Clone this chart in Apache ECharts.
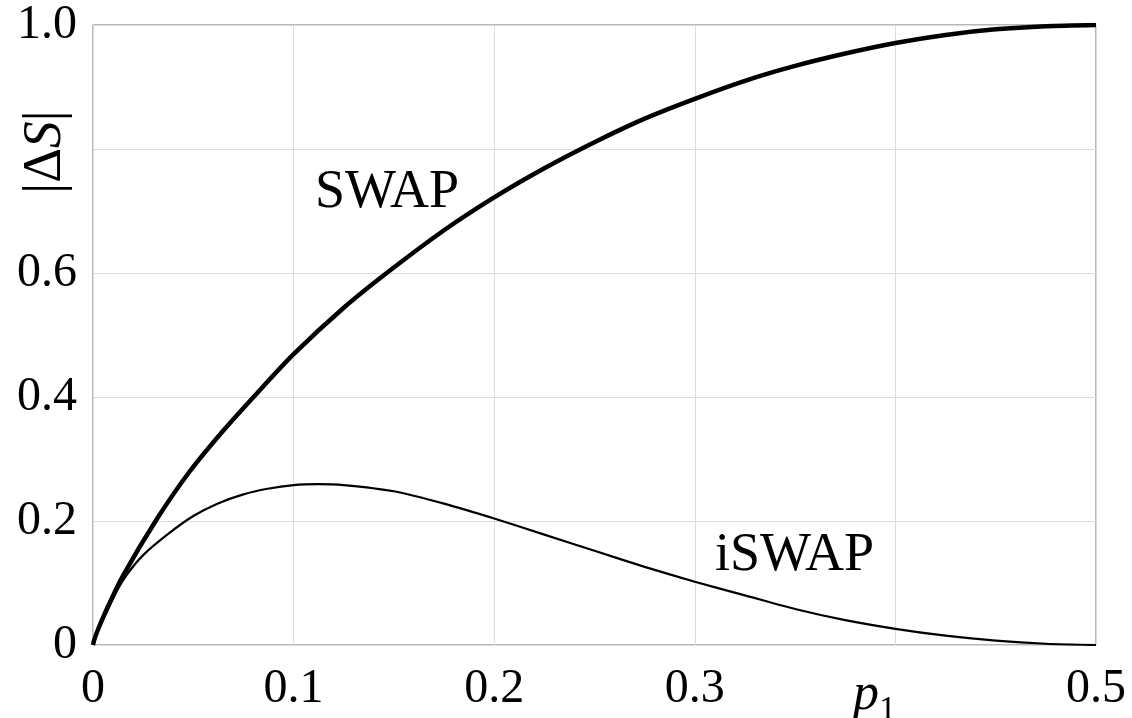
<!DOCTYPE html>
<html>
<head>
<meta charset="utf-8">
<script src="https://cdn.jsdelivr.net/npm/echarts@6/dist/echarts.min.js"></script>
<style>html,body{margin:0;padding:0;background:#fff}#c{width:1132px;height:718px}</style>
</head>
<body>
<div id="c"></div>
<script>
// p1 values and |ΔS| values
const swapP = [0, 0.0005, 0.002, 0.007, 0.015, 0.032, 0.048, 0.065, 0.082, 0.1, 0.125, 0.148, 0.175, 0.2, 0.225, 0.25, 0.275, 0.3, 0.325, 0.35, 0.375, 0.4, 0.425, 0.45, 0.475, 0.5];
const swapV = [0, 0.007, 0.021, 0.059, 0.112, 0.204, 0.279, 0.346, 0.407, 0.469, 0.544, 0.604, 0.669, 0.722, 0.769, 0.811, 0.849, 0.881, 0.910, 0.934, 0.954, 0.971, 0.984, 0.993, 0.998, 1.0];

const iswapP = [0, 0.0005, 0.002, 0.007, 0.012, 0.017, 0.025, 0.037, 0.05, 0.062, 0.075, 0.087, 0.1, 0.112, 0.125, 0.15, 0.175, 0.2, 0.225, 0.25, 0.275, 0.3, 0.325, 0.35, 0.375, 0.4, 0.425, 0.45, 0.475, 0.5];
const iswapV = [0, 0.007, 0.02, 0.054, 0.088, 0.114, 0.145, 0.178, 0.208, 0.228, 0.243, 0.252, 0.258, 0.2595, 0.258, 0.248, 0.228, 0.204, 0.178, 0.152, 0.126, 0.102, 0.080, 0.058, 0.040, 0.026, 0.015, 0.007, 0.002, 0];

const xTicks = ['0', '0.1', '0.2', '0.3', '', '0.5'];
const yTicks = ['0', '0.2', '0.4', '0.6', '', '1.0'];
const annotations = ['SWAP', 'iSWAP'];

const FONT = 'Liberation Serif';
const chart = echarts.init(document.getElementById('c'), null, {renderer: 'canvas'});

function zip(a, b) { return a.map((v, i) => [v, b[i]]); }

chart.setOption({
  animation: false,
  backgroundColor: '#fff',
  grid: {left: 93, right: 36, top: 25, bottom: 73, show: true, borderColor: '#6e6e6e', borderWidth: 1,
         containLabel: false, outerBoundsMode: 'none'},
  xAxis: {
    type: 'value', min: 0, max: 0.5, interval: 0.1,
    axisLine: {show: false}, axisTick: {show: false},
    splitLine: {show: true, lineStyle: {color: '#dcdcdc', width: 1}},
    axisLabel: {
      margin: 20, color: '#000', fontFamily: FONT, fontSize: 48,
      formatter: function (v) { return xTicks[Math.round(v / 0.1)]; }
    }
  },
  yAxis: {
    type: 'value', min: 0, max: 1.0, interval: 0.2,
    axisLine: {show: false}, axisTick: {show: false},
    splitLine: {show: true, lineStyle: {color: '#dcdcdc', width: 1}},
    axisLabel: {
      margin: 16, color: '#000', fontFamily: FONT, fontSize: 48,
      formatter: function (v) { return yTicks[Math.round(v / 0.2)]; }
    }
  },
  series: [
    {type: 'line', name: 'SWAP', data: zip(swapP, swapV), showSymbol: false, smooth: 0.25,
     lineStyle: {color: '#000', width: 4.5}, z: 3},
    {type: 'line', name: 'iSWAP', data: zip(iswapP, iswapV), showSymbol: false, smooth: 0.25,
     lineStyle: {color: '#000', width: 2.2}, z: 2}
  ],
  graphic: [
    {type: 'text', left: 315, top: 166, style: {text: annotations[0], font: '54px "' + FONT + '"', fill: '#000'}},
    {type: 'text', left: 715, top: 529, style: {text: annotations[1], font: '54px "' + FONT + '"', fill: '#000'}},
    {type: 'text', x: 46, y: 152, rotation: Math.PI / 2,
     style: {text: '{n|\u007C\u0394}{i|S}{n|\u007C}', align: 'center', verticalAlign: 'middle',
       rich: {n: {fontFamily: FONT, fontSize: 54, fill: '#000'}, i: {fontFamily: FONT, fontSize: 54, fontStyle: 'italic', fill: '#000'}}}},
    {type: 'text', x: 853, y: 669, style: {text: 'p', font: 'italic 52px "' + FONT + '"', fill: '#000', verticalAlign: 'top'}},
    {type: 'text', x: 879, y: 693, style: {text: '1', font: '34px "' + FONT + '"', fill: '#000', verticalAlign: 'top'}}
  ]
});
</script>
</body>
</html>
